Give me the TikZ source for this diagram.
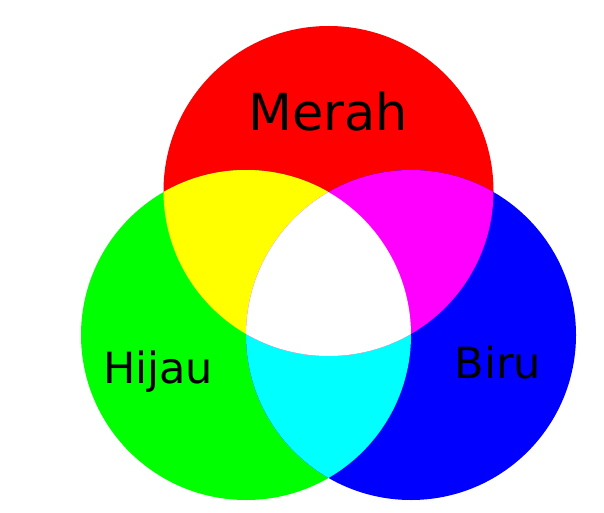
\documentclass[tikz,border=0pt]{standalone}
\usepackage{fontspec}
\setmainfont{DejaVu Sans}
\definecolor{merahmix}{RGB}{255,0,0}
\definecolor{hijaumix}{RGB}{0,255,0}
\definecolor{birumix}{RGB}{0,0,255}
\definecolor{kuningmix}{RGB}{255,255,0}
\definecolor{ungumix}{RGB}{255,0,255}
\definecolor{tosqamix}{RGB}{0,255,255}
\begin{document}
\begin{tikzpicture}[x=1pt, y=-1pt, every node/.style={inner sep=0pt, anchor=base}]
        \useasboundingbox (0,0) rectangle (604,513);
        \def\rad{165}
        \coordinate (R) at (328.5, 191);
        \coordinate (G) at (246, 335);
        \coordinate (B) at (411, 335);
        \fill[merahmix] (R) circle (\rad);
        \fill[hijaumix] (G) circle (\rad);
        \fill[birumix] (B) circle (\rad);
        \begin{scope}
            \clip (G) circle (\rad);
            \fill[tosqamix] (B) circle (\rad);
        \end{scope}
        \begin{scope}
            \clip (R) circle (\rad);
            \fill[kuningmix] (G) circle (\rad);
            \fill[ungumix] (B) circle (\rad);
            \clip (G) circle (\rad);
            \fill[white] (B) circle (\rad);
        \end{scope}
        \node[font=\fontsize{51}{60}\selectfont] (merah) at (328, 131) {Merah};
        \node[font=\fontsize{43}{50}\selectfont] (hijau) at (158, 383) {Hijau};
        \node[font=\fontsize{43}{50}\selectfont] (biru) at (498, 378) {Biru};
    \end{tikzpicture}
\end{document}
